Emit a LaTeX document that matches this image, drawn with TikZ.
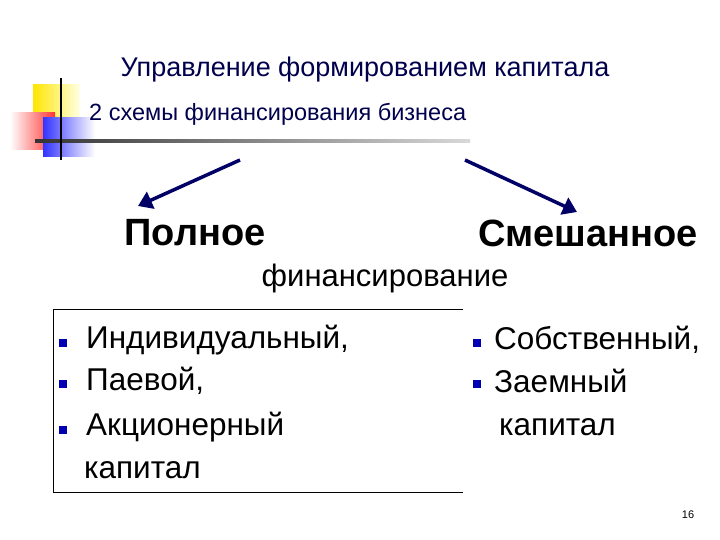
\documentclass[tikz,border=0pt]{standalone}
\usepackage{fontspec}
\setmainfont{Liberation Sans}
\usetikzlibrary{arrows.meta}
\begin{document}
\begin{tikzpicture}[x=1pt,y=-1pt,
  txt/.style={inner sep=0pt,anchor=west,font=\fontsize{31.5}{34}\selectfont},
  bul/.style={fill=blue!70!black,minimum size=8pt,inner sep=0pt},
  arr/.style={draw=blue!40!black,line width=3.5pt,-{Triangle[length=14pt,width=18pt]}}]
\useasboundingbox (0,0) rectangle (720,540);
\fill[left color=yellow!80!orange,right color=yellow!10] (33,85) rectangle (80,125);
\fill[left color=white,right color=red!80] (10,113) rectangle (55,150);
\fill[left color=blue!80,right color=white] (43,118) rectangle (95,157);
\shade[left color=black!80,right color=gray!30] (35,140) rectangle (470,143);
\draw[line width=2pt] (61,78) -- (61,160);
\node[inner sep=0pt,text=blue!30!black,font=\fontsize{27}{30}\selectfont] (title) at (365,70) {Управление формированием капитала};
\node[inner sep=0pt,anchor=west,text=blue!30!black,font=\fontsize{23.5}{26}\selectfont] (sub) at (89,114) {2 схемы финансирования бизнеса};
\coordinate (a1s) at (240,160); \coordinate (a1e) at (138,206);
\coordinate (a2s) at (465,160); \coordinate (a2e) at (577,212);
\draw[arr] (a1s) -- (a1e);
\draw[arr] (a2s) -- (a2e);
\node[inner sep=0pt,font=\bfseries\fontsize{38}{40}\selectfont] (full) at (195,233) {Полное};
\node[inner sep=0pt,font=\bfseries\fontsize{38}{40}\selectfont] (mix) at (588,233) {Смешанное};
\node[inner sep=0pt,font=\fontsize{31}{34}\selectfont] (fin) at (385,278) {финансирование};
\draw[line width=0.6pt] (463,309) -- (53,309) -- (53,492) -- (463,492);
\node[bul] (b1) at (63,343) {}; \node[txt] (t1) at (86,340) {Индивидуальный,};
\node[bul] (b2) at (63,384) {}; \node[txt] (t2) at (86,381) {Паевой,};
\node[bul] (b3) at (63,430) {}; \node[txt] (t3) at (86,427) {Акционерный};
\node[txt] (t4) at (84,470) {капитал};
\node[bul] (c1) at (477,343) {}; \node[txt] (u1) at (494,340) {Собственный,};
\node[bul] (c2) at (477,384) {}; \node[txt] (u2) at (494,381) {Заемный};
\node[txt] (u3) at (499,427) {капитал};
\node[inner sep=0pt,font=\fontsize{11}{13}\selectfont] (pg) at (688,515) {16};
\end{tikzpicture}
\end{document}
